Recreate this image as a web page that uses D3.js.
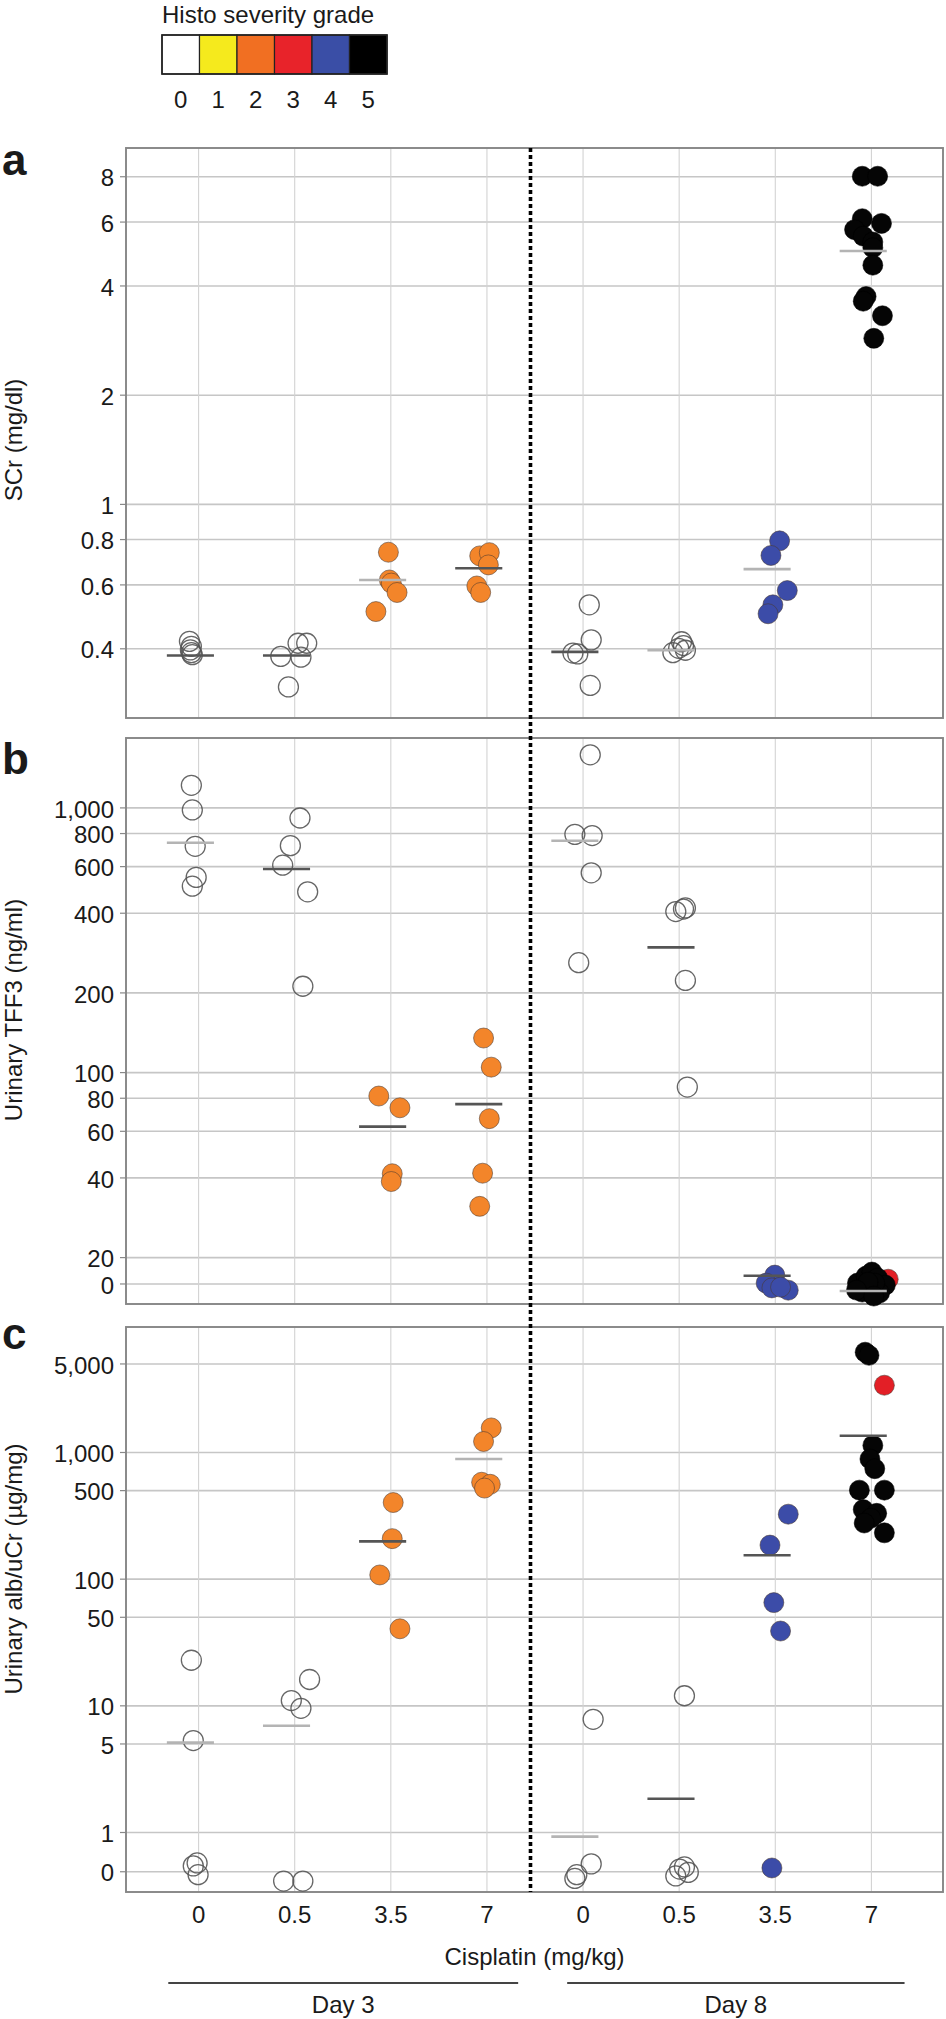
<!DOCTYPE html>
<html><head><meta charset="utf-8">
<script src="https://cdn.jsdelivr.net/npm/d3@7/dist/d3.min.js"></script>
<style>
body{margin:0;background:#fff}
svg{display:block}
text{font-family:"Liberation Sans",Arial,Helvetica,sans-serif;fill:#1a1a1a}
</style></head><body>
<svg id="chart" width="946" height="2019"></svg>
<script>
// ---------- categories ----------
const doses = ["0","0.5","3.5","7","0","0.5","3.5","7"];
const groupKeys = ["D3-0","D3-0.5","D3-3.5","D3-7","D8-0","D8-0.5","D8-3.5","D8-7"];
const days = ["Day 3","Day 8"];
const gradeLabels = ["0","1","2","3","4","5"];
const gradeColors = ["#ffffff","#f5ea1d","#f16f22","#e8232a","#3a4ea6","#000000"];
const pointColors = ["none","#f5ea1d","#f3852a","#e31f26","#3c4ca8","#050505"];

// ---------- panel a: SCr (mg/dl) ----------
const scrTicks = [0.4,0.6,0.8,1,2,4,6,8];
const scrTickLabels = ["0.4","0.6","0.8","1","2","4","6","8"];
const scrValues = [
  [0.418,0.405,0.396,0.389,0.384],
  [0.380,0.413,0.413,0.378,0.313],
  [0.736,0.617,0.605,0.570,0.505],
  [0.719,0.734,0.679,0.594,0.570],
  [0.527,0.422,0.388,0.386,0.316],
  [0.417,0.407,0.395,0.389,0.400],
  [0.791,0.721,0.577,0.527,0.498],
  [8.0,8.0,6.11,5.93,5.70,5.47,5.27,5.08,4.55,3.73,3.62,3.30,2.86]
];
const scrJitter = [
  [-0.09,-0.07,-0.08,-0.07,-0.06],
  [-0.14,0.04,0.13,0.07,-0.06],
  [-0.02,-0.01,0.01,0.07,-0.15],
  [-0.07,0.03,0.02,-0.10,-0.06],
  [0.07,0.09,-0.10,-0.05,0.08],
  [0.03,0.05,0.07,-0.06,0.0],
  [0.05,-0.04,0.13,-0.02,-0.07],
  [-0.09,0.07,-0.09,0.11,-0.17,-0.08,0.02,0.02,0.02,-0.05,-0.08,0.12,0.03]
];
const scrGrades = [0,0,2,2,0,0,4,5];
const scrMedians = [0.382,0.382,0.617,0.665,0.391,0.395,0.661,4.98];

// ---------- panel b: Urinary TFF3 (ng/ml) ----------
const tffTicks = [15.9,20,40,60,80,100,200,400,600,800,1000];
const tffTickLabels = ["0","20","40","60","80","100","200","400","600","800","1,000"];
const tffValues = [
  [1212,978,713,544,504],
  [912,717,605,480,211],
  [81.2,73.3,41.3,38.6],
  [134.5,104.4,66.7,41.5,31.1],
  [1580,791,783,566,259],
  [404,413,417,222,87.8],
  [17.1,15.95,15.3,15.0,15.4],
  [16.5,15.95,16.96,17.56,16.67,15.68,14.75,15.01,14.63,15.95,16.09,15.01,14.25]
];
const tffJitter = [
  [-0.07,-0.06,-0.03,-0.02,-0.06],
  [0.06,-0.04,-0.12,0.14,0.09],
  [-0.12,0.10,0.02,0.01],
  [-0.03,0.05,0.03,-0.04,-0.07],
  [0.08,-0.08,0.10,0.09,-0.04],
  [-0.03,0.05,0.07,0.07,0.09],
  [0.0,-0.09,-0.03,0.14,0.06],
  [0.18,-0.14,-0.05,0.01,0.07,0.15,-0.09,-0.01,0.09,0.04,-0.03,-0.15,0.03]
];
const tffGrades = [0,0,2,2,0,0,4,[3,5,5,5,5,5,5,5,5,5,5,5,5]];
const tffMedians = [735,585,62.2,75.7,748,296,17.0,14.9];

// ---------- panel c: Urinary alb/uCr (µg/mg) ----------
const albTicks = [0.49,1,5,10,50,100,500,1000,5000];
const albTickLabels = ["0","1","5","10","50","100","500","1,000","5,000"];
const albValues = [
  [22.7,5.27,0.57,0.54,0.46],
  [16.0,10.9,9.47,0.41,0.41],
  [399,207,107,40.2],
  [1549,1210,577,556,519],
  [7.76,0.56,0.46,0.43],
  [11.9,0.53,0.51,0.48,0.45],
  [323,184,64.7,38.6,0.52],
  [6135,5800,3367,1127,881,738,500,500,351,328,300,275,230]
];
const albJitter = [
  [-0.07,-0.05,-0.01,-0.05,0.0],
  [0.16,-0.03,0.07,-0.11,0.09],
  [0.03,0.02,-0.11,0.10],
  [0.05,-0.03,-0.05,0.04,-0.02],
  [0.11,0.09,-0.06,-0.08],
  [0.06,0.06,0.01,0.10,-0.03],
  [0.14,-0.05,-0.01,0.06,-0.03],
  [-0.06,-0.02,0.14,0.02,-0.01,0.04,-0.12,0.14,-0.08,0.06,0.0,-0.07,0.14]
];
const albGrades = [0,0,2,2,0,0,4,[5,5,3,5,5,5,5,5,5,5,5,5,5]];
const albMedians = [5.08,6.9,197,881,0.92,1.83,153,1345];

// ---------- styles (not data) ----------
const toneColor = {dark:"#555", light:"#b4b4b4"};
const scrTones = ["dark","dark","light","dark","dark","light","light","light"];
const tffTones = ["light","dark","dark","dark","light","dark","dark","light"];
const albTones = ["light","light","dark","light","light","dark","dark","dark"];

const FONT = 24;
const svg = d3.select("#chart");
const x = d3.scalePoint().domain(groupKeys).range([126, 943]).padding(0.75);
const step = x.step();
const left = 126, right = 943;

const panels = [
  {letter:"a", top:148, bottom:718, domain:[0.257,9.57], ticks:scrTicks, labels:scrTickLabels,
   values:scrValues, jitter:scrJitter, grades:scrGrades, medians:scrMedians, tones:scrTones,
   title:"SCr (mg/dl)", titleY:440, letterY:175},
  {letter:"b", top:738, bottom:1304, domain:[13.3,1829], ticks:tffTicks, labels:tffTickLabels,
   values:tffValues, jitter:tffJitter, grades:tffGrades, medians:tffMedians, tones:tffTones,
   title:"Urinary TFF3 (ng/ml)", titleY:1010, letterY:774},
  {letter:"c", top:1327, bottom:1892, domain:[0.336,9700], ticks:albTicks, labels:albTickLabels,
   values:albValues, jitter:albJitter, grades:albGrades, medians:albMedians, tones:albTones,
   title:"Urinary alb/uCr (\u00b5g/mg)", titleY:1569, letterY:1349}
];

panels.forEach(p => {
  const y = d3.scaleLog().domain(p.domain).range([p.bottom, p.top]);
  const g = svg.append("g");

  // horizontal gridlines
  g.append("g").attr("transform", `translate(${left},0)`)
    .call(d3.axisLeft(y).tickValues(p.ticks).tickSize(-(right-left)).tickFormat(""))
    .call(s => s.select(".domain").remove())
    .call(s => s.selectAll("line").attr("stroke","#c6c6c6").attr("stroke-width",1.6));

  // vertical gridlines
  g.append("g").attr("transform", `translate(0,${p.bottom})`)
    .call(d3.axisBottom(x).tickSize(-(p.bottom-p.top)).tickFormat(""))
    .call(s => s.select(".domain").remove())
    .call(s => s.selectAll("line").attr("stroke","#d3d3d3").attr("stroke-width",1.1));

  // y axis with labels
  g.append("g").attr("transform", `translate(${left},0)`)
    .call(d3.axisLeft(y).tickValues(p.ticks).tickFormat((d,i)=>p.labels[i]).tickSize(6).tickPadding(6))
    .call(s => s.select(".domain").remove())
    .call(s => s.selectAll("line").attr("stroke","#888").attr("stroke-width",1.2))
    .call(s => s.selectAll("text").attr("font-size",FONT).attr("fill","#1a1a1a")
       .attr("font-family",'"Liberation Sans",Arial,sans-serif').attr("dy","0.4em"));

  // panel frame
  g.append("rect").attr("x",left).attr("y",p.top).attr("width",right-left).attr("height",p.bottom-p.top)
    .attr("fill","none").attr("stroke","#868686").attr("stroke-width",1.9);

  // points
  const pts = [];
  p.values.forEach((arr, gi) => {
    arr.forEach((v, k) => {
      const gr = Array.isArray(p.grades[gi]) ? p.grades[gi][k] : p.grades[gi];
      pts.push({g: groupKeys[gi], v, j: p.jitter[gi][k], grade: gr});
    });
  });
  g.append("g").selectAll("circle").data(pts).join("circle")
    .attr("cx", d => x(d.g) + d.j*step)
    .attr("cy", d => y(d.v))
    .attr("r", 10)
    .attr("fill", d => pointColors[d.grade])
    .attr("stroke", d => d.grade === 0 ? "#555" : (d.grade === 5 ? "#000" : "#4a3a30"))
    .attr("stroke-width", d => d.grade === 0 ? 1.3 : 0.8)
    .attr("stroke-opacity", d => d.grade === 0 ? 0.9 : 0.7);

  // median lines
  g.append("g").selectAll("line").data(p.medians).join("line")
    .attr("x1", (m,i) => x(groupKeys[i]) - 0.08*step - 0.245*step)
    .attr("x2", (m,i) => x(groupKeys[i]) - 0.08*step + 0.245*step)
    .attr("y1", m => y(m)).attr("y2", m => y(m))
    .attr("stroke", (m,i) => toneColor[p.tones[i]]).attr("stroke-width", 2.6);

  // panel letter
  svg.append("text").attr("x",2).attr("y",p.letterY).text(p.letter)
    .attr("font-size",44).attr("font-weight","bold").attr("fill","#111");
  // y title
  svg.append("text").attr("transform",`translate(22,${p.titleY}) rotate(-90)`)
    .attr("text-anchor","middle").attr("font-size",FONT).text(p.title);
});

// dotted separator between Day 3 and Day 8
const sepX = (x("D3-7") + x("D8-0"))/2 - 4;
svg.append("line").attr("x1",sepX).attr("x2",sepX).attr("y1",panels[0].top).attr("y2",panels[2].bottom)
  .attr("stroke","#000").attr("stroke-width",3.6).attr("stroke-dasharray","4,3");

// x axis labels
const bottom = panels[2].bottom;
svg.append("g").attr("transform",`translate(0,${bottom})`)
  .call(d3.axisBottom(x).tickSize(0).tickPadding(14).tickFormat((d,i)=>doses[i]))
  .call(s => s.select(".domain").remove())
  .call(s => s.selectAll("text").attr("font-size",FONT).attr("fill","#1a1a1a")
     .attr("font-family",'"Liberation Sans",Arial,sans-serif'));

svg.append("text").attr("x",(left+right)/2).attr("y",1965).attr("text-anchor","middle")
  .attr("font-size",FONT).text("Cisplatin (mg/kg)");

// day brackets
const dayRanges = [[x("D3-0")-0.31*step, x("D3-7")+0.33*step],[x("D8-0")-0.16*step, x("D8-7")+0.35*step]];
days.forEach((d,i) => {
  const [a,b] = dayRanges[i];
  svg.append("line").attr("x1",a).attr("x2",b).attr("y1",1983).attr("y2",1983)
    .attr("stroke","#444").attr("stroke-width",2.2);
  svg.append("text").attr("x",(a+b)/2).attr("y",2013).attr("text-anchor","middle")
    .attr("font-size",FONT).text(d);
});

// legend
const lg = svg.append("g");
const boxW = 37.5, lx = 162, ly = 35, lh = 39;
lg.append("text").attr("x",lx).attr("y",23).attr("font-size",FONT).text("Histo severity grade");
lg.selectAll("rect").data(gradeColors).join("rect")
  .attr("x",(c,i)=>lx+i*boxW).attr("y",ly).attr("width",boxW).attr("height",lh)
  .attr("fill",c=>c).attr("stroke","#222").attr("stroke-width",1.2);
lg.append("rect").attr("x",lx).attr("y",ly).attr("width",boxW*6).attr("height",lh)
  .attr("fill","none").attr("stroke","#222").attr("stroke-width",1.6);
lg.selectAll("text.gl").data(gradeLabels).join("text").attr("class","gl")
  .attr("x",(t,i)=>lx+i*boxW+boxW/2).attr("y",108).attr("text-anchor","middle")
  .attr("font-size",FONT).text(t=>t);
</script>
</body></html>
